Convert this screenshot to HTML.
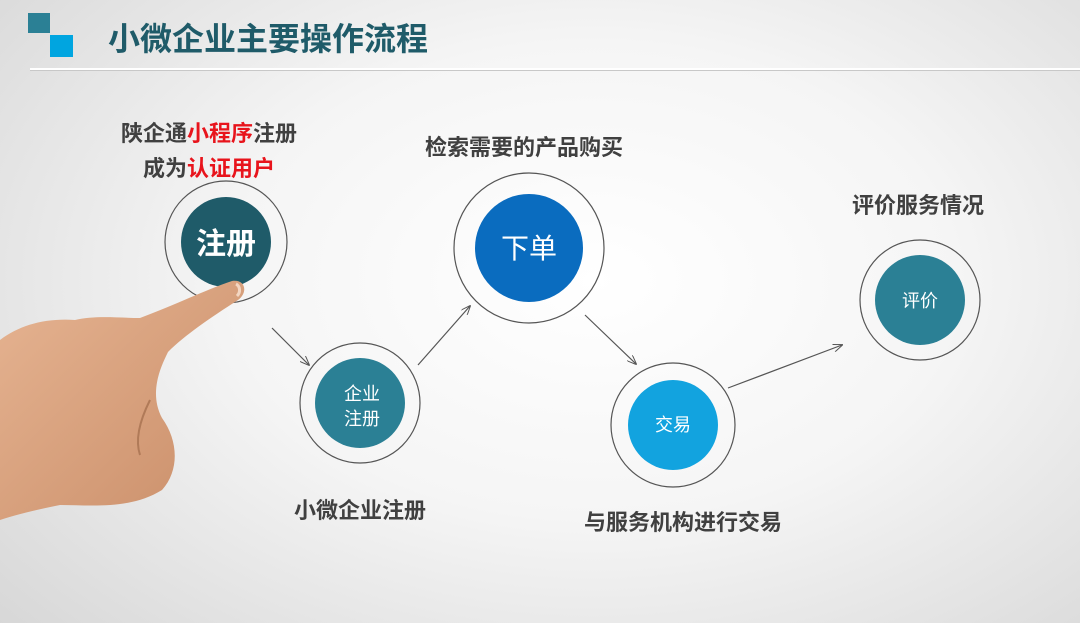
<!DOCTYPE html>
<html><head><meta charset="utf-8"><style>
html,body{margin:0;padding:0;width:1080px;height:623px;overflow:hidden}
body{background:radial-gradient(ellipse 75% 85% at 55% 45%,#ffffff 0%,#f5f5f5 45%,#d6d6d6 100%);font-family:"Liberation Sans","Noto Sans CJK SC",sans-serif}
svg text{font-family:"Liberation Sans","Noto Sans CJK SC",sans-serif}
</style></head><body>
<svg width="1080" height="623" viewBox="0 0 1080 623" xmlns="http://www.w3.org/2000/svg">
<defs>
<marker id="a" markerWidth="10" markerHeight="8" refX="9" refY="4" orient="auto" markerUnits="userSpaceOnUse"><path d="M0,0 L10,4 L0,8" fill="none" stroke="#555" stroke-width="1"/></marker>
<linearGradient id="skin" x1="0" y1="0" x2="1" y2="1"><stop offset="0" stop-color="#e6b492"/><stop offset="1" stop-color="#c98d68"/></linearGradient>
</defs>
<rect x="28" y="13" width="22" height="20" fill="#2b8095"/>
<rect x="50" y="35" width="23" height="22" fill="#00a5e0"/>
<text x="108" y="50" font-size="32" font-weight="bold" fill="#1f5b69">小微企业主要操作流程</text>
<rect x="30" y="68" width="1050" height="2" fill="#fff"/>
<rect x="30" y="70" width="1050" height="1" fill="#c8c8c8"/>

<g font-size="22" font-weight="bold" fill="#404040" text-anchor="middle">
<text x="209" y="141">陕企通<tspan fill="#e8141c">小程序</tspan>注册</text>
<text x="209" y="176">成为<tspan fill="#e8141c">认证用户</tspan></text>
<text x="524" y="155">检索需要的产品购买</text>
<text x="918" y="213">评价服务情况</text>
<text x="360" y="518">小微企业注册</text>
<text x="683" y="530">与服务机构进行交易</text>
</g>

<g fill="none" stroke="#555" stroke-width="1.2">
<circle cx="226" cy="242" r="61"/>
<circle cx="360" cy="403" r="60"/>
<circle cx="529" cy="248" r="75"/>
<circle cx="673" cy="425" r="62"/>
<circle cx="920" cy="300" r="60"/>
<line x1="272" y1="328" x2="309" y2="365" marker-end="url(#a)"/>
<line x1="418" y1="365" x2="470" y2="306" marker-end="url(#a)"/>
<line x1="585" y1="315" x2="636" y2="364" marker-end="url(#a)"/>
<line x1="728" y1="388" x2="842" y2="345" marker-end="url(#a)"/>
</g>
<circle cx="226" cy="242" r="45" fill="#1f5b69"/>
<circle cx="360" cy="403" r="45" fill="#2b8095"/>
<circle cx="529" cy="248" r="54" fill="#0a6cbf"/>
<circle cx="673" cy="425" r="45" fill="#12a3df"/>
<circle cx="920" cy="300" r="45" fill="#2b8095"/>
<g fill="#fff" text-anchor="middle">
<text x="226" y="254" font-size="30" font-weight="bold">注册</text>
<text x="362" y="400" font-size="18">企业</text>
<text x="362" y="425" font-size="18">注册</text>
<text x="529" y="258" font-size="28">下单</text>
<text x="673" y="431" font-size="18">交易</text>
<text x="920" y="307" font-size="18">评价</text>
</g>

<!-- hand -->
<path d="M0,340 C20,325 45,318 75,320 C95,315 120,318 140,318 C175,305 205,290 232,281 C246,279 248,293 238,300 C210,318 185,335 168,352 C158,372 150,395 162,418 C178,440 180,470 162,490 C130,510 90,505 60,505 C35,510 15,515 0,520 Z" fill="url(#skin)"/>
<path d="M150,400 C140,420 135,440 140,455" fill="none" stroke="#b07a58" stroke-width="2"/>
<path d="M236,284 C240,286 241,292 237,296" fill="none" stroke="#f3d6c2" stroke-width="3"/>
</svg>
</body></html>
